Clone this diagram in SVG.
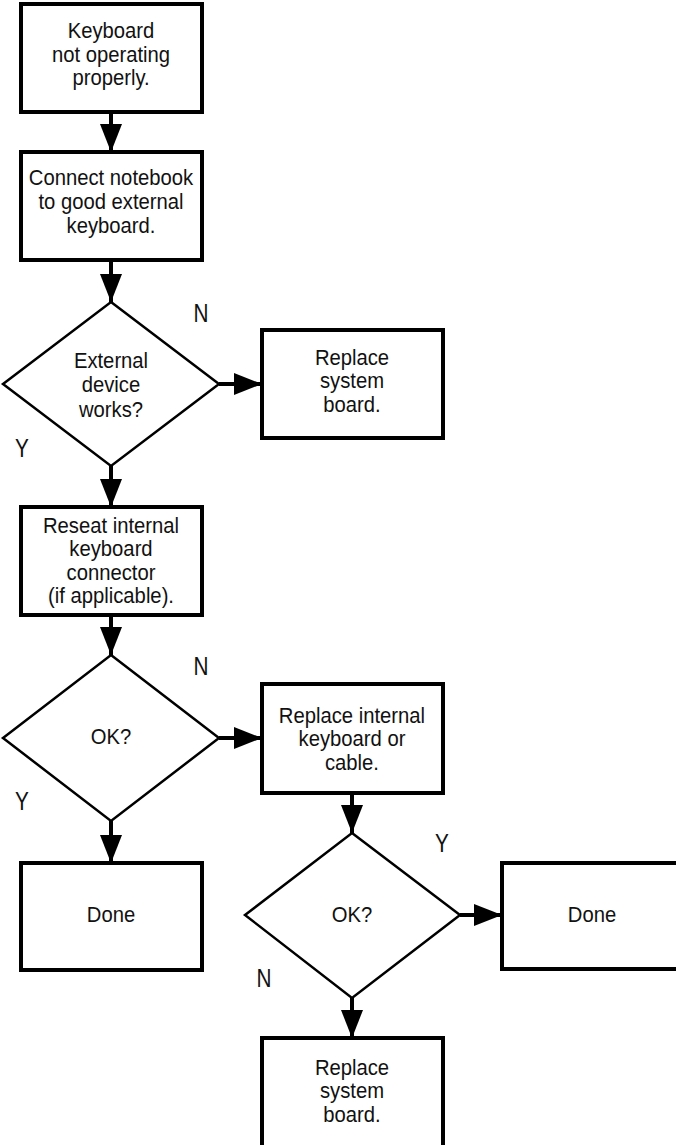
<svg xmlns="http://www.w3.org/2000/svg" width="676" height="1145" viewBox="0 0 676 1145">
<style>
.box{fill:#fff;stroke:#000;stroke-width:4}
.dia{fill:#fff;stroke:#000;stroke-width:2.5}
.con{stroke:#000;stroke-width:4;fill:none}
text{font-family:"Liberation Sans",Arial,sans-serif;font-size:22.5px;fill:#111;text-anchor:middle}
.lbl{font-size:25px}
</style>
<defs>
<marker id="ah" markerUnits="userSpaceOnUse" markerWidth="28" markerHeight="22" refX="28" refY="11" orient="auto">
<path d="M0,0 L28,11 L0,22 z" fill="#000"/>
</marker>
</defs>
<rect width="676" height="1145" fill="#fff"/>
<g id="connectors">
<line class="con" x1="111" y1="112" x2="111" y2="152" marker-end="url(#ah)"/>
<line class="con" x1="111" y1="260" x2="111" y2="302" marker-end="url(#ah)"/>
<line class="con" x1="219" y1="384" x2="262" y2="384" marker-end="url(#ah)"/>
<line class="con" x1="111" y1="466" x2="111" y2="507" marker-end="url(#ah)"/>
<line class="con" x1="111" y1="615" x2="111" y2="655" marker-end="url(#ah)"/>
<line class="con" x1="219" y1="738" x2="262" y2="738" marker-end="url(#ah)"/>
<line class="con" x1="111" y1="821" x2="111" y2="863" marker-end="url(#ah)"/>
<line class="con" x1="352" y1="793" x2="352" y2="833" marker-end="url(#ah)"/>
<line class="con" x1="460" y1="915" x2="502" y2="915" marker-end="url(#ah)"/>
<line class="con" x1="352" y1="998" x2="352" y2="1038" marker-end="url(#ah)"/>
</g>
<g id="n1">
<rect class="box" x="21" y="4" width="181" height="108"/>
<g transform="translate(111 0) scale(0.9 1)">
<text x="0" y="38">Keyboard</text>
<text x="0" y="62">not operating</text>
<text x="0" y="85">properly.</text>
</g>
</g>
<g id="n2">
<rect class="box" x="21" y="152" width="181" height="108"/>
<g transform="translate(111 0) scale(0.9 1)">
<text x="0" y="185">Connect notebook</text>
<text x="0" y="209">to good external</text>
<text x="0" y="233">keyboard.</text>
</g>
</g>
<g id="d1">
<polygon class="dia" points="111,302 219,384 111,466 3,384"/>
<g transform="translate(111 0) scale(0.9 1)">
<text x="0" y="368">External</text>
<text x="0" y="392">device</text>
<text x="0" y="417">works?</text>
</g>
</g>
<g id="n3">
<rect class="box" x="262" y="330" width="181" height="108"/>
<g transform="translate(352 0) scale(0.9 1)">
<text x="0" y="365">Replace</text>
<text x="0" y="388">system</text>
<text x="0" y="412">board.</text>
</g>
</g>
<g id="n4">
<rect class="box" x="21" y="507" width="181" height="108"/>
<g transform="translate(111 0) scale(0.9 1)">
<text x="0" y="533">Reseat internal</text>
<text x="0" y="556">keyboard</text>
<text x="0" y="580">connector</text>
<text x="0" y="603">(if applicable).</text>
</g>
</g>
<g id="d2">
<polygon class="dia" points="111,655 219,738 111,821 3,738"/>
<g transform="translate(111 0) scale(0.9 1)">
<text x="0" y="744">OK?</text>
</g>
</g>
<g id="n5">
<rect class="box" x="262" y="684" width="181" height="109"/>
<g transform="translate(352 0) scale(0.9 1)">
<text x="0" y="723">Replace internal</text>
<text x="0" y="746">keyboard or</text>
<text x="0" y="770">cable.</text>
</g>
</g>
<g id="n6">
<rect class="box" x="21" y="863" width="181" height="107"/>
<g transform="translate(111 0) scale(0.9 1)">
<text x="0" y="922">Done</text>
</g>
</g>
<g id="d3">
<polygon class="dia" points="352,833 460,915 352,998 245,915"/>
<g transform="translate(352 0) scale(0.9 1)">
<text x="0" y="922">OK?</text>
</g>
</g>
<g id="n7">
<rect class="box" x="502" y="863" width="190" height="106"/>
<g transform="translate(592 0) scale(0.9 1)">
<text x="0" y="922">Done</text>
</g>
</g>
<g id="n8">
<rect class="box" x="262" y="1038" width="181" height="115"/>
<g transform="translate(352 0) scale(0.9 1)">
<text x="0" y="1075">Replace</text>
<text x="0" y="1098">system</text>
<text x="0" y="1122">board.</text>
</g>
</g>
<g id="labels">
<g transform="translate(201 0) scale(0.83 1)"><text class="lbl" x="0" y="322">N</text></g>
<g transform="translate(22 0) scale(0.83 1)"><text class="lbl" x="0" y="457">Y</text></g>
<g transform="translate(201 0) scale(0.83 1)"><text class="lbl" x="0" y="675">N</text></g>
<g transform="translate(22 0) scale(0.83 1)"><text class="lbl" x="0" y="810">Y</text></g>
<g transform="translate(442 0) scale(0.83 1)"><text class="lbl" x="0" y="852">Y</text></g>
<g transform="translate(264 0) scale(0.83 1)"><text class="lbl" x="0" y="987">N</text></g>
</g>
</svg>
